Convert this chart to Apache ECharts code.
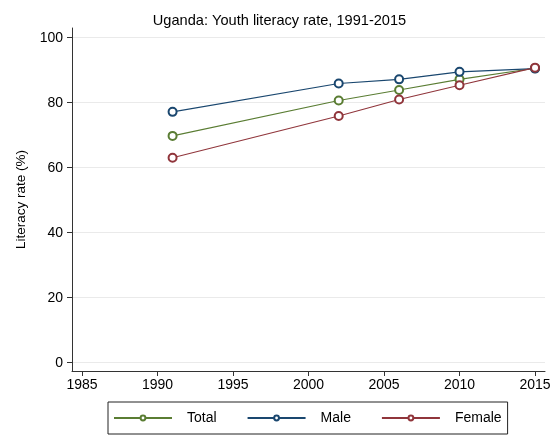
<!DOCTYPE html>
<html>
<head>
<meta charset="utf-8">
<script src="https://cdn.jsdelivr.net/npm/echarts@6/dist/echarts.min.js"></script>
<style>html,body{margin:0;padding:0;background:#fff;}#c{width:559px;height:435px;}</style>
</head>
<body>
<div id="c"></div>
<script>
var years = [1991, 2002, 2006, 2010, 2015];
var total = [69.8, 80.7, 83.9, 87.2, 90.6];
var male = [77.2, 85.9, 87.2, 89.5, 90.5];
var female = [63.1, 75.9, 81.0, 85.4, 90.8];
var xTicks = [1985, 1990, 1995, 2000, 2005, 2010, 2015];
var yTicks = [0, 20, 40, 60, 80, 100];
var seriesNames = ['Total', 'Male', 'Female'];
var colors = ['#5a7d33', '#1a476f', '#90353b'];

function pairs(v) { return years.map(function (y, i) { return [y, v[i]]; }); }
var font = 'Liberation Sans, Arial, sans-serif';
var chart = echarts.init(document.getElementById('c'), null, {renderer: 'canvas'});
var dataSets = [total, male, female];
chart.setOption({
  animation: false,
  backgroundColor: '#fff',
  title: {
    text: 'Uganda: Youth literacy rate, 1991-2015',
    left: 'center', top: 8,
    textStyle: {fontFamily: font, fontSize: 14.6, fontWeight: 'normal', color: '#000'}
  },
  grid: {left: 72, right: 14, top: 28, bottom: 64, containLabel: false},
  xAxis: {
    type: 'value', min: 1984.34, max: 2015.66,
    axisLine: {show: true, onZero: false, lineStyle: {color: '#333', width: 1}},
    axisTick: {show: true, length: 5, customValues: xTicks, lineStyle: {color: '#333'}},
    axisLabel: {customValues: xTicks, margin: 7, color: '#000', fontFamily: font, fontSize: 14,
      formatter: function (v) { return String(v); }},
    splitLine: {show: false}
  },
  yAxis: {
    type: 'value', min: -2.55, max: 103,
    name: 'Literacy rate (%)', nameLocation: 'middle', nameGap: 44,
    nameTextStyle: {fontFamily: font, fontSize: 13.5, color: '#000'},
    axisLine: {show: true, onZero: false, lineStyle: {color: '#333', width: 1}},
    axisTick: {show: true, length: 5, customValues: yTicks, lineStyle: {color: '#333'}},
    axisLabel: {customValues: yTicks, margin: 9, color: '#000', fontFamily: font, fontSize: 14},
    splitLine: {show: true, lineStyle: {color: '#eaeaea', width: 1}}
  },
  legend: {
    data: seriesNames,
    bottom: 1, left: 108,
    orient: 'horizontal',
    itemWidth: 58, itemHeight: 6, itemGap: 30,
    padding: [9, 6, 9, 5],
    borderColor: '#222', borderWidth: 1, backgroundColor: '#fff',
    textStyle: {fontFamily: font, fontSize: 14, color: '#000', padding: [0, 0, 0, 10]}
  },
  series: seriesNames.map(function (n, i) {
    return {
      name: n, type: 'line', data: pairs(dataSets[i]),
      symbol: 'emptyCircle', symbolSize: 8,
      color: colors[i],
      lineStyle: {color: colors[i], width: 1.1},
      itemStyle: {color: colors[i], borderColor: colors[i], borderWidth: 0.8}
    };
  })
});
</script>
</body>
</html>
